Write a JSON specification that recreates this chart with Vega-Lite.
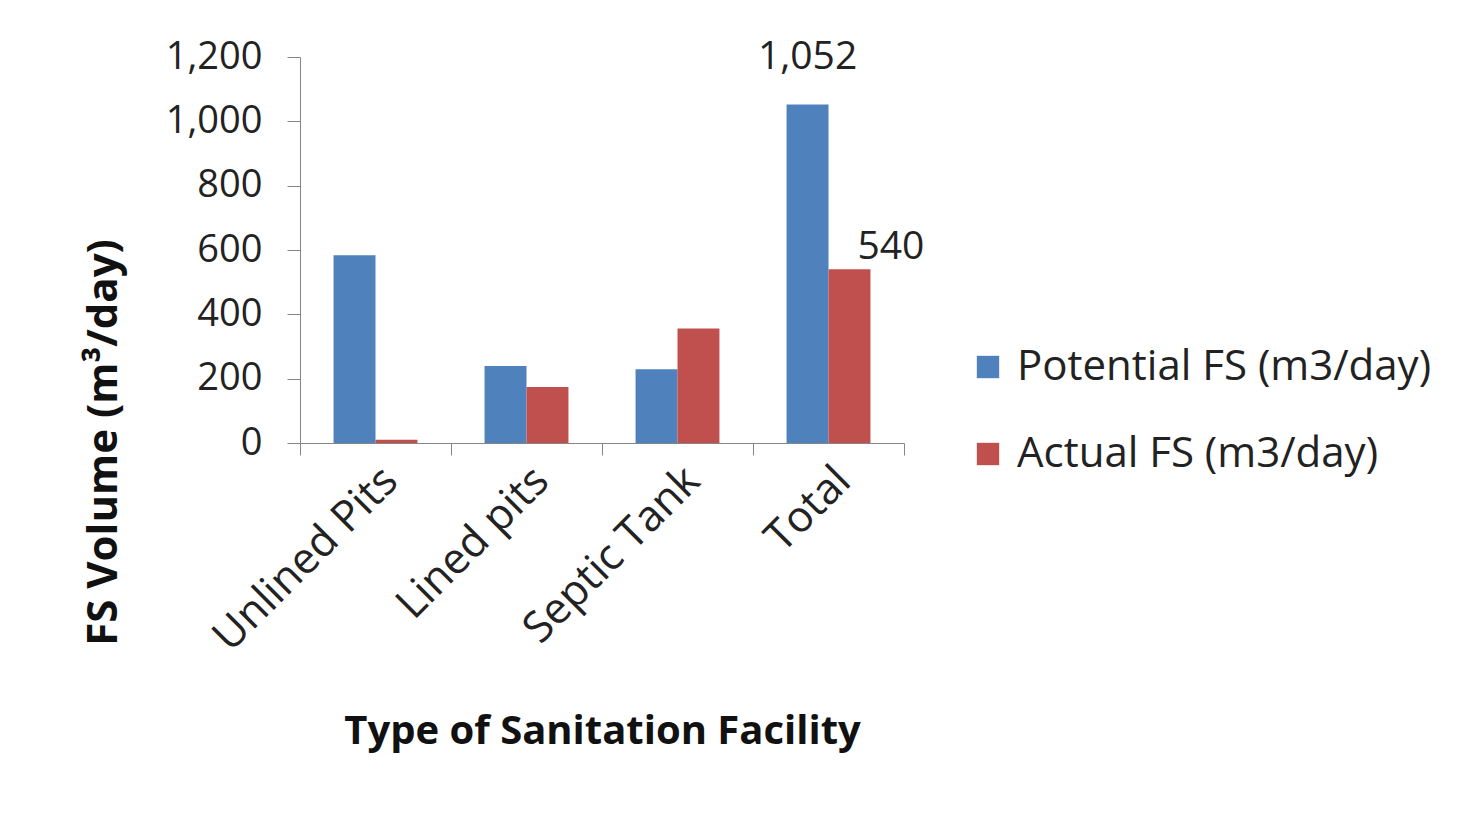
{
  "$schema": "https://vega.github.io/schema/vega-lite/v6.json",
  "width": 604,
  "height": 386,
  "autosize": "none",
  "padding": {"left": 300, "top": 57, "right": 578, "bottom": 371},
  "background": "white",
  "config": {
    "font": "Open Sans",
    "view": {"stroke": null},
    "axis": {"grid": false, "domainColor": "#868686", "tickColor": "#868686", "labelColor": "#222222", "titleColor": "#111111"}
  },
  "data": {
    "values": [
      {"category": "Unlined Pits", "series": "Potential FS (m3/day)", "value": 584},
      {"category": "Unlined Pits", "series": "Actual FS (m3/day)", "value": 10},
      {"category": "Lined pits", "series": "Potential FS (m3/day)", "value": 239},
      {"category": "Lined pits", "series": "Actual FS (m3/day)", "value": 174},
      {"category": "Septic Tank", "series": "Potential FS (m3/day)", "value": 229},
      {"category": "Septic Tank", "series": "Actual FS (m3/day)", "value": 356},
      {"category": "Total", "series": "Potential FS (m3/day)", "value": 1052},
      {"category": "Total", "series": "Actual FS (m3/day)", "value": 540}
    ]
  },
  "encoding": {
    "x": {
      "field": "category", "type": "nominal",
      "sort": ["Unlined Pits", "Lined pits", "Septic Tank", "Total"],
      "scale": {"paddingInner": 0, "paddingOuter": 0},
      "axis": {
        "title": "Type of Sanitation Facility",
        "titleFontSize": 40, "titleFontWeight": "bold", "titlePadding": 68,
        "labelFontSize": 43, "labelAngle": -45, "labelPadding": 4, "labelLimit": 500,
        "tickBand": "extent", "tickSize": 12
      }
    },
    "xOffset": {
      "field": "series", "type": "nominal",
      "sort": ["Potential FS (m3/day)", "Actual FS (m3/day)"],
      "scale": {"paddingInner": 0, "paddingOuter": 0.8}
    },
    "y": {
      "field": "value", "type": "quantitative",
      "scale": {"domain": [0, 1200], "nice": false},
      "axis": {
        "title": "FS Volume (m³/day)",
        "titleFontSize": 42, "titleFontWeight": "bold",
        "titleX": -197, "titleY": 385, "titleAngle": -90, "titleAlign": "center", "titleBaseline": "middle",
        "values": [0, 200, 400, 600, 800, 1000, 1200], "format": ",d",
        "labelFontSize": 38, "labelPadding": 25, "tickSize": 13
      }
    }
  },
  "layer": [
    {
      "mark": {"type": "bar"},
      "encoding": {
        "color": {
          "field": "series", "type": "nominal",
          "sort": ["Potential FS (m3/day)", "Actual FS (m3/day)"],
          "scale": {"domain": ["Potential FS (m3/day)", "Actual FS (m3/day)"], "range": ["#4F81BD", "#C0504D"]},
          "legend": {
            "title": null, "orient": "none", "legendX": 667, "legendY": 289,
            "symbolType": "square", "symbolSize": 500, "symbolStrokeWidth": 0,
            "labelFontSize": 42, "labelColor": "#222222", "labelLimit": 700, "labelOffset": 8,
            "rowPadding": 45
          }
        }
      }
    },
    {
      "transform": [{"filter": "datum.category === 'Total' && datum.series === 'Potential FS (m3/day)'"}],
      "mark": {"type": "text", "fontSize": 39, "baseline": "bottom", "dy": -28, "color": "#222222"},
      "encoding": {"text": {"field": "value", "type": "quantitative", "format": ",d"}}
    },
    {
      "transform": [{"filter": "datum.category === 'Total' && datum.series === 'Actual FS (m3/day)'"}],
      "mark": {"type": "text", "fontSize": 39, "baseline": "bottom", "align": "left", "dx": 8, "dy": -2, "color": "#222222"},
      "encoding": {"text": {"field": "value", "type": "quantitative", "format": ",d"}}
    }
  ]
}
